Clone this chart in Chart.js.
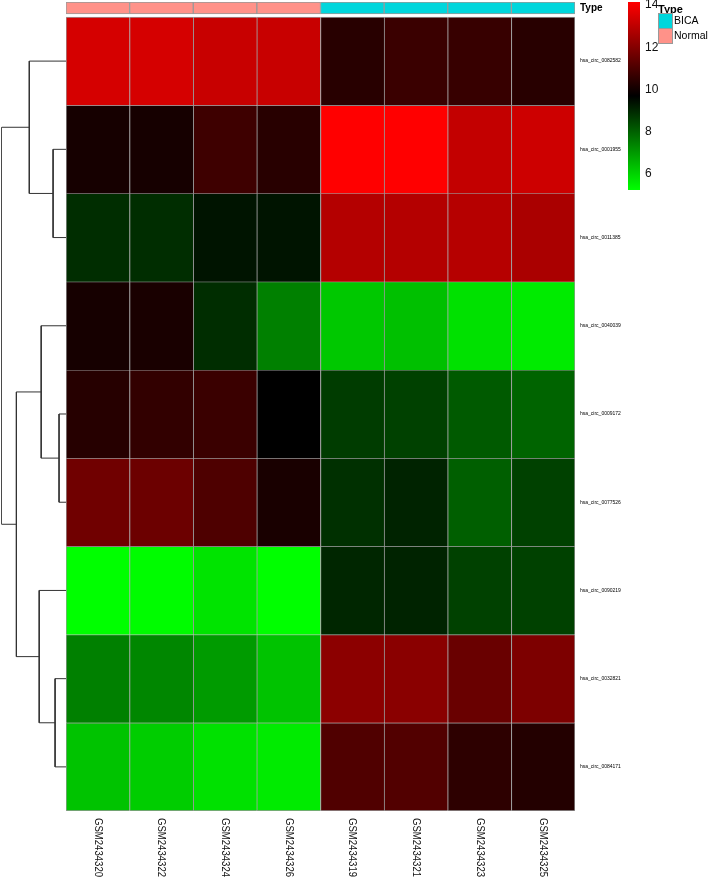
<!DOCTYPE html>
<html>
<head>
<meta charset="utf-8">
<script src="https://cdn.jsdelivr.net/npm/chart.js@4.4.1/dist/chart.umd.min.js"></script>
<style>
  html, body { margin: 0; padding: 0; background: #fff; }
  #wrap { position: relative; width: 708px; height: 880px; }
  canvas { position: absolute; top: 0; }
</style>
</head>
<body>
<div id="wrap">
  <canvas id="heat" width="708" height="880" style="left:0"></canvas>
  <canvas id="tree" width="66" height="880" style="left:0"></canvas>
  <canvas id="key" width="88" height="200" style="left:620px"></canvas>
</div>
<script>
// samples, in plotted order
const columns = ['GSM2434320', 'GSM2434322', 'GSM2434324', 'GSM2434326',
                 'GSM2434319', 'GSM2434321', 'GSM2434323', 'GSM2434325'];
const groups = ['Normal', 'Normal', 'Normal', 'Normal', 'BICA', 'BICA', 'BICA', 'BICA'];
const groupColors = { BICA: '#00D6DC', Normal: '#FF9289' };

// circRNAs, in plotted order (top to bottom)
const rows = ['hsa_circ_0082582', 'hsa_circ_0001955', 'hsa_circ_0011385',
              'hsa_circ_0040039', 'hsa_circ_0009172', 'hsa_circ_0077526',
              'hsa_circ_0090219', 'hsa_circ_0032821', 'hsa_circ_0084171'];

// expression, one array per row
const row0 = [13.41, 13.41, 13.18, 13.18, 10.39, 10.70, 10.65, 10.39];
const row1 = [10.07, 10.07, 10.77, 10.39, 14.14, 14.14, 13.09, 13.27];
const row2 = [8.90, 8.90, 9.34, 9.34, 12.83, 12.83, 12.87, 12.66];
const row3 = [10.07, 10.13, 8.90, 7.46, 6.20, 6.34, 5.76, 5.59];
const row4 = [10.35, 10.56, 10.70, 9.69, 8.64, 8.56, 8.12, 7.94];
const row5 = [11.64, 11.57, 11.05, 10.13, 8.85, 9.08, 8.03, 8.56];
const row6 = [5.24, 5.29, 5.71, 5.24, 9.03, 9.08, 8.56, 8.56];
const row7 = [7.46, 7.33, 6.99, 6.29, 12.13, 12.10, 11.52, 11.87];
const row8 = [6.29, 6.11, 5.76, 5.59, 11.09, 11.12, 10.48, 10.30];
const values = [row0, row1, row2, row3, row4, row5, row6, row7, row8];

// row clustering, hclust style: negative = leaf, positive = earlier merge
const merges = [[-2, -3, 13], [-1, 1, 37], [-5, -6, 7], [-4, 3, 25],
                [-8, -9, 11], [-7, 5, 27], [4, 6, 50], [2, 7, 65]];

// colour key
const keyMin = 5.24;
const keyMax = 14.14;
const keyTicks = [6, 8, 10, 12, 14];

const FONT = '"Liberation Sans", Arial, Helvetica, sans-serif';
const ANNOT_TOP = -0.17;
const ANNOT_BOTTOM = -0.034;
const GRID = '#999999';

function heatColor(v) {
  const mid = (keyMin + keyMax) / 2;
  if (v <= mid) {
    const g = Math.round(255 * Math.min(1, (mid - v) / (mid - keyMin)));
    return 'rgb(0,' + g + ',0)';
  }
  const r = Math.round(255 * Math.min(1, (v - mid) / (keyMax - mid)));
  return 'rgb(' + r + ',0,0)';
}

// labels at the ends must not shrink the plot area
function noEndPadding(s) {
  s.paddingTop = 0;
  s.paddingBottom = 0;
}

// ---------- heatmap ----------
const rowDatasets = values.map((vals, r) => ({
  data: vals.map(() => [r, r + 1]),
  backgroundColor: vals.map(heatColor),
  borderColor: GRID,
  borderWidth: ctx => ({
    left: 1, top: 1,
    right: ctx.dataIndex === columns.length - 1 ? 1 : 0,
    bottom: r === rows.length - 1 ? 1 : 0
  }),
  borderSkipped: false,
  barPercentage: 1,
  categoryPercentage: 1,
  grouped: false
}));

const annotDataset = {
  data: groups.map(() => [ANNOT_TOP, ANNOT_BOTTOM]),
  backgroundColor: groups.map(g => groupColors[g]),
  borderColor: GRID,
  borderWidth: 1,
  borderSkipped: false,
  barPercentage: 1,
  categoryPercentage: 1,
  grouped: false
};

const columnLabels = {
  id: 'columnLabels',
  afterDraw(chart) {
    const ctx = chart.ctx;
    const xs = chart.scales.x;
    ctx.save();
    ctx.fillStyle = '#111';
    ctx.font = '11px ' + FONT;
    ctx.textAlign = 'left';
    ctx.textBaseline = 'middle';
    columns.forEach((c, i) => {
      ctx.save();
      ctx.translate(xs.getPixelForValue(i), chart.chartArea.bottom + 7);
      ctx.rotate(Math.PI / 2);
      ctx.scale(0.87, 1);
      ctx.fillText(c, 0, 0);
      ctx.restore();
    });
    ctx.restore();
  }
};

new Chart(document.getElementById('heat'), {
  type: 'bar',
  data: { labels: columns, datasets: [annotDataset, ...rowDatasets] },
  options: {
    responsive: false,
    animation: false,
    layout: { padding: { left: 66, top: 2 } },
    plugins: { legend: { display: false }, tooltip: { enabled: false } },
    scales: {
      x: {
        grid: { display: false, drawTicks: false },
        border: { display: false },
        ticks: { display: false },
        afterFit: s => { s.height = 69; }
      },
      y: {
        position: 'right',
        reverse: true,
        min: ANNOT_TOP,
        max: rows.length,
        grid: { display: false, drawTicks: false },
        border: { display: false },
        afterBuildTicks: s => {
          s.ticks = [{ value: (ANNOT_TOP + ANNOT_BOTTOM) / 2 }]
            .concat(rows.map((_, i) => ({ value: i + 0.5 })));
        },
        ticks: {
          autoSkip: false,
          padding: 5,
          color: '#000',
          font: ctx => (ctx.tick && ctx.tick.value < 0)
            ? { family: FONT, size: 10, weight: 'bold' }
            : { family: FONT, size: 5 },
          callback: v => v < 0 ? 'Type' : rows[Math.floor(v)]
        },
        afterFit: s => { s.width = 133; noEndPadding(s); }
      }
    }
  },
  plugins: [columnLabels]
});

// ---------- dendrogram ----------
const nodes = [];
function nodePos(id) {
  return id < 0 ? { y: -id - 0.5, h: 0 } : nodes[id - 1];
}
const treeDatasets = merges.map(([a, b, h]) => {
  const A = nodePos(a), B = nodePos(b);
  nodes.push({ y: (A.y + B.y) / 2, h: h });
  return {
    data: [{ x: A.h, y: A.y }, { x: h, y: A.y }, { x: h, y: B.y }, { x: B.h, y: B.y }],
    showLine: true,
    pointRadius: 0,
    borderColor: '#333',
    borderWidth: 1
  };
});

new Chart(document.getElementById('tree'), {
  type: 'scatter',
  data: { datasets: treeDatasets },
  options: {
    responsive: false,
    animation: false,
    layout: { padding: { left: 1.5, top: 2, bottom: 69, right: 0 } },
    plugins: { legend: { display: false }, tooltip: { enabled: false } },
    scales: {
      x: { type: 'linear', display: false, reverse: true, min: 0, max: merges[merges.length - 1][2] },
      y: { type: 'linear', display: false, reverse: true, min: ANNOT_TOP, max: rows.length }
    }
  }
});

// ---------- colour key + Type legend ----------
const typeLegend = {
  id: 'typeLegend',
  afterDraw(chart) {
    const ctx = chart.ctx;
    ctx.save();
    ctx.fillStyle = '#000';
    ctx.textAlign = 'left';
    ctx.textBaseline = 'alphabetic';
    ctx.font = 'bold 11px ' + FONT;
    ctx.fillText('Type', 38, 12.5);
    ctx.font = '10.5px ' + FONT;
    ctx.textBaseline = 'middle';
    ['BICA', 'Normal'].forEach((g, i) => {
      const y = 13.5 + i * 15;
      ctx.fillStyle = groupColors[g];
      ctx.fillRect(38.5, y, 14, 15);
      ctx.strokeStyle = GRID;
      ctx.lineWidth = 1;
      ctx.strokeRect(38.5, y, 14, 15);
      ctx.fillStyle = '#000';
      ctx.fillText(g, 54, y + 7.5);
    });
    ctx.restore();
  }
};

new Chart(document.getElementById('key'), {
  type: 'bar',
  data: {
    labels: [''],
    datasets: [{
      data: [[keyMin, keyMax]],
      backgroundColor: ctx => {
        const area = ctx.chart.chartArea;
        if (!area) return '#000';
        const g = ctx.chart.ctx.createLinearGradient(0, area.bottom, 0, area.top);
        g.addColorStop(0, '#00ff00');
        g.addColorStop(0.5, '#000000');
        g.addColorStop(1, '#ff0000');
        return g;
      },
      borderWidth: 0,
      barPercentage: 1,
      categoryPercentage: 1
    }]
  },
  options: {
    responsive: false,
    animation: false,
    layout: { padding: { left: 8, top: 2, bottom: 10, right: 0 } },
    plugins: { legend: { display: false }, tooltip: { enabled: false } },
    scales: {
      x: { display: false },
      y: {
        position: 'right',
        min: keyMin,
        max: keyMax,
        grid: { display: false, drawTicks: false },
        border: { display: false },
        afterBuildTicks: s => { s.ticks = keyTicks.map(v => ({ value: v })); },
        ticks: { padding: 5, color: '#111', font: { family: FONT, size: 12 } },
        afterFit: s => { s.width = 68; noEndPadding(s); }
      }
    }
  },
  plugins: [typeLegend]
});
</script>
</body>
</html>
